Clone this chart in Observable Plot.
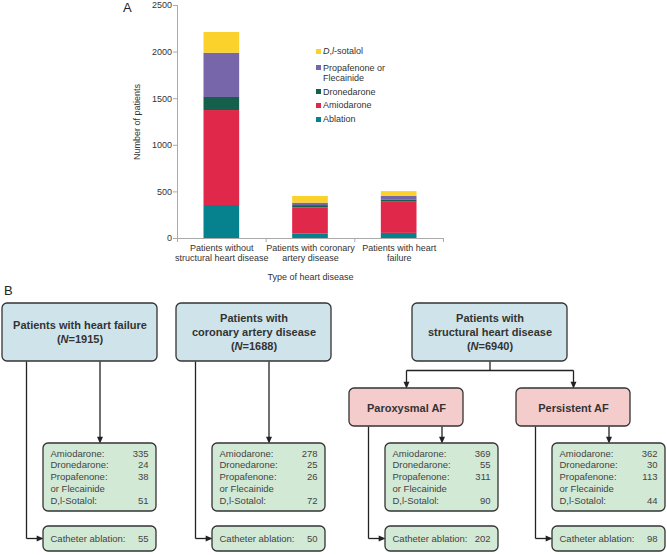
<!DOCTYPE html>
<html>
<head>
<meta charset="utf-8">
<script src="https://cdn.jsdelivr.net/npm/d3@7"></script>
<script src="https://cdn.jsdelivr.net/npm/@observablehq/plot@0.6"></script>
<style>
  html, body { margin: 0; padding: 0; background: #fff; }
  body { width: 667px; height: 555px; position: relative; overflow: hidden; font-family: "Liberation Sans", Arial, sans-serif; }
  .abs { position: absolute; }
  .panel { position: absolute; font-size: 13px; color: #222; }
  .leg { position: absolute; font-size: 9px; color: #333; line-height: 10px; white-space: nowrap; }
  .sw { position: absolute; width: 5px; height: 5px; }
</style>
</head>
<body>
<div id="chartA" class="abs" style="left:0;top:0"></div>
<div id="chartB" class="abs" style="left:0;top:280px"></div>
<div class="panel" style="left:123px;top:0px">A</div>
<div class="panel" style="left:4px;top:283px">B</div>
<div id="legend"></div>
<script>
// ---------- Panel A data ----------
const categories = ["Patients without\nstructural heart disease", "Patients with coronary\nartery disease", "Patients with heart\nfailure"];
const seriesNames = ["Ablation", "Amiodarone", "Dronedarone", "Propafenone or Flecainide", "D,l-sotalol"];
const seriesColors = ["#06828e", "#e0284a", "#15604a", "#7766a9", "#fbd12b"];
const ablation    = [354, 50, 55];
const amiodarone  = [1019, 278, 335];
const dronedarone = [140, 25, 24];
const propafenone = [475, 26, 38];
const sotalol     = [222, 72, 51];
const yTicks = [0, 500, 1000, 1500, 2000, 2500];

// ---------- Panel B data ----------
const groupTitles = ["Patients with heart failure\n(N=1915)", "Patients with\ncoronary artery disease\n(N=1688)", "Patients with\nstructural heart disease\n(N=6940)"];
const afTypes = ["Paroxysmal AF", "Persistent AF"];
const drugLabels = ["Amiodarone:", "Dronedarone:", "Propafenone:", "or Flecainide", "D,l-Sotalol:"];
const hfDrugs = [335, 24, 38, null, 51];
const cadDrugs = [278, 25, 26, null, 72];
const paroxDrugs = [369, 55, 311, null, 90];
const persistDrugs = [362, 30, 113, null, 44];
const ablationLabel = "Catheter ablation:";
const ablationCounts = [55, 50, 202, 98];

// ---------- Panel A ----------
const seriesValues = [ablation, amiodarone, dronedarone, propafenone, sotalol];
const rows = [];
categories.forEach((c, i) => {
  let acc = 0;
  seriesNames.forEach((s, k) => {
    const v = seriesValues[k][i];
    rows.push({i, series: s, y1: acc, y2: acc + v});
    acc += v;
  });
});

const font = "'Liberation Sans', Arial, sans-serif";
const A = Plot.plot({
  width: 667, height: 285,
  marginLeft: 177, marginRight: 224, marginTop: 5, marginBottom: 47,
  style: {fontFamily: font, fontSize: "9px", color: "#333", background: "transparent"},
  x: {domain: [0, 3]},
  y: {domain: [0, 2500]},
  color: {domain: seriesNames, range: seriesColors},
  marks: [
    Plot.rect(rows, {x1: "i", x2: d => d.i + 1, y1: "y1", y2: "y2", fill: "series", insetLeft: 26.5, insetRight: 26.5}),
    Plot.ruleX([0], {stroke: "#aaa"}),
    Plot.ruleY([0], {stroke: "#aaa"}),
    Plot.axisY({ticks: yTicks, tickFormat: d => String(d), tickSize: 4, tickPadding: 1.5, label: null, stroke: "#aaa", fill: "#333"}),
    Plot.axisX({ticks: [0, 1, 2, 3], tickFormat: () => "", tickSize: 4, label: null, stroke: "#aaa"}),
    Plot.text(categories, {x: (d, i) => i + 0.5, y: 0, lineAnchor: "top", dy: 5, lineHeight: 1.12, fill: "#333"}),
    Plot.text(["Type of heart disease"], {frameAnchor: "bottom", lineAnchor: "middle", dy: 39, fill: "#333"}),
    Plot.text(["Number of patients"], {frameAnchor: "left", textAnchor: "middle", rotate: -90, dx: -40, fill: "#333"})
  ]
});
document.getElementById("chartA").appendChild(A);

// Legend (top item = last series)
const legendRows = [
  {k: 4, y: 51},
  {k: 3, y: 67.5},
  {k: 2, y: 91.5},
  {k: 1, y: 105},
  {k: 0, y: 119}
];
const leg = document.getElementById("legend");
legendRows.forEach(({k, y}) => {
  const sw = document.createElement("div");
  sw.className = "sw";
  sw.style.left = "316px"; sw.style.top = (y - 2.5) + "px"; sw.style.background = seriesColors[k];
  leg.appendChild(sw);
  const t = document.createElement("div");
  t.className = "leg";
  t.style.left = "323px"; t.style.top = (y - 5) + "px";
  if (k === 4) t.innerHTML = "<i>D</i>,<i>l</i>-sotalol";
  else if (k === 3) t.innerHTML = "Propafenone or<br>Flecainide";
  else t.textContent = seriesNames[k];
  leg.appendChild(t);
});

// ---------- Panel B (flow diagram) ----------
const BLUE = "#cfe4ea", PINK = "#f5cccc", GREEN = "#d2e9d6";
const leafX = [43, 212, 385, 552], LW = 113;
const topX = [2, 176, 412], TW = 155;
const pinkX = [349, 516], PW = 114;
const TOP = [23, 81], PNK = [108, 146], DRG = [163, 231], ABL = [246, 271];
const BUS = 90, HOOK = 258;
const drugSets = [hfDrugs, cadDrugs, paroxDrugs, persistDrugs];

const boxes = [];
groupTitles.forEach((t, i) => boxes.push({x1: topX[i], x2: topX[i] + TW, y1: TOP[0], y2: TOP[1], fill: BLUE, label: t, bold: true}));
afTypes.forEach((t, i) => boxes.push({x1: pinkX[i], x2: pinkX[i] + PW, y1: PNK[0], y2: PNK[1], fill: PINK, label: t, bold: true}));
leafX.forEach(x => {
  boxes.push({x1: x, x2: x + LW, y1: DRG[0], y2: DRG[1], fill: GREEN});
  boxes.push({x1: x, x2: x + LW, y1: ABL[0], y2: ABL[1], fill: GREEN});
});

const segs = [], downTips = [], rightTips = [];
leafX.forEach((x, c) => {
  const pBottom = c < 2 ? TOP[1] : PNK[1];
  const lx = x - 17, cx = x + LW / 2;
  segs.push({x1: lx, y1: pBottom, x2: lx, y2: HOOK});
  segs.push({x1: lx, y1: HOOK, x2: x - 2, y2: HOOK});
  rightTips.push({x: x, y: HOOK});
  segs.push({x1: cx, y1: pBottom, x2: cx, y2: DRG[0] - 2});
  downTips.push({x: cx, y: DRG[0]});
});
const shdC = topX[2] + TW / 2;
const pinkC = pinkX.map(x => x + PW / 2);
segs.push({x1: shdC, y1: TOP[1], x2: shdC, y2: BUS});
segs.push({x1: pinkC[0], y1: BUS, x2: pinkC[1], y2: BUS});
pinkC.forEach(pc => { segs.push({x1: pc, y1: BUS, x2: pc, y2: PNK[0] - 2}); downTips.push({x: pc, y: PNK[0]}); });

const downTri = {draw(ctx, size) { const r = Math.sqrt(size / Math.PI); ctx.moveTo(0, 0); ctx.lineTo(-0.75 * r, -1.7 * r); ctx.lineTo(0.75 * r, -1.7 * r); ctx.closePath(); }};
const rightTri = {draw(ctx, size) { const r = Math.sqrt(size / Math.PI); ctx.moveTo(0, 0); ctx.lineTo(-1.7 * r, -0.75 * r); ctx.lineTo(-1.7 * r, 0.75 * r); ctx.closePath(); }};

const labelTexts = [], valueTexts = [];
leafX.forEach((x, c) => {
  drugLabels.forEach((lab, k) => {
    const y = 173 + k * 11.8;
    labelTexts.push({x: x + 7, y, text: lab});
    const v = drugSets[c][k];
    if (v != null) valueTexts.push({x: x + LW - 8, y, text: String(v)});
  });
  labelTexts.push({x: x + 7, y: HOOK, text: ablationLabel});
  valueTexts.push({x: x + LW - 8, y: HOOK, text: String(ablationCounts[c])});
});
const titleBoxes = boxes.filter(b => b.bold).map(b => ({x: (b.x1 + b.x2) / 2, y: b.fill === BLUE ? 51 : (b.y1 + b.y2) / 2, text: b.label}));

const B = Plot.plot({
  width: 667, height: 275, margin: 0,
  x: {type: "identity", axis: null}, y: {type: "identity", axis: null}, color: {type: "identity"},
  style: {fontFamily: font, fontSize: "9.5px", color: "#333", background: "transparent"},
  marks: [
    Plot.link(segs, {x1: "x1", y1: "y1", x2: "x2", y2: "y2", stroke: "#222", strokeWidth: 1.3}),
    Plot.dot(downTips, {x: "x", y: "y", symbol: downTri, r: 4, fill: "#222", stroke: "none"}),
    Plot.dot(rightTips, {x: "x", y: "y", symbol: rightTri, r: 4, fill: "#222", stroke: "none"}),
    Plot.rect(boxes, {x1: "x1", x2: "x2", y1: "y1", y2: "y2", fill: "fill", stroke: "#333", strokeWidth: 1.3, rx: 5}),
    Plot.text(titleBoxes, {x: "x", y: "y", text: "text", fontWeight: "bold", fontSize: 11, lineHeight: 1.25, fill: "#333"}),
    Plot.text(labelTexts, {x: "x", y: "y", text: "text", textAnchor: "start", fill: "#444"}),
    Plot.text(valueTexts, {x: "x", y: "y", text: "text", textAnchor: "end", fill: "#444"})
  ]
});
document.getElementById("chartB").appendChild(B);

// italic N in "(N=...)"
d3.select(B).selectAll("tspan").filter(function () { return this.textContent.startsWith("(N="); }).each(function () {
  const t = this.textContent;
  const s = d3.select(this);
  s.text("");
  s.append("tspan").text("(");
  s.append("tspan").attr("font-style", "italic").text("N");
  s.append("tspan").text(t.slice(2));
});
</script>
</body>
</html>
